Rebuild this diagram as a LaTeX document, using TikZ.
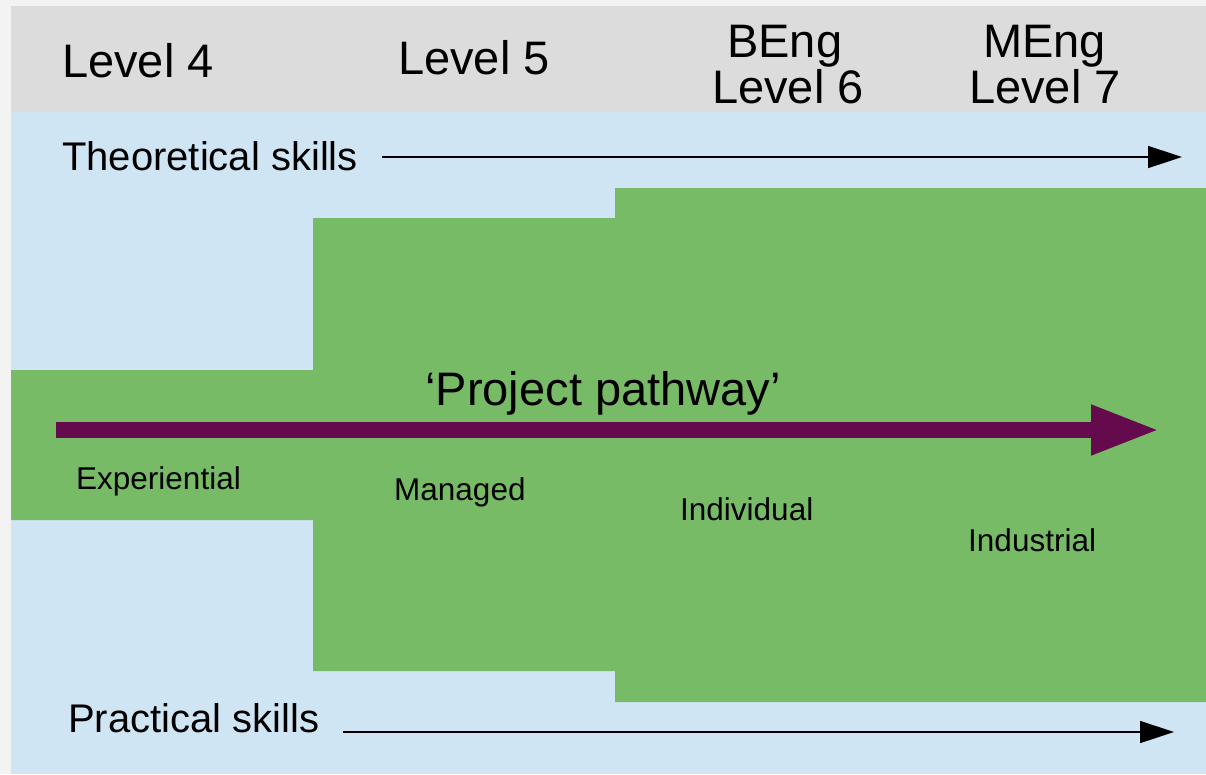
\documentclass[tikz,border=0pt]{standalone}
\usepackage{fontspec}
\setmainfont{Liberation Sans}
\usetikzlibrary{arrows.meta}
\definecolor{pagebg}{HTML}{F3F3F3}
\definecolor{headgray}{HTML}{DCDCDC}
\definecolor{skyblue}{HTML}{CFE5F3}
\definecolor{stepgreen}{HTML}{77BB66}
\definecolor{pathpurple}{HTML}{660A4E}
\tikzset{
  lbl/.style={inner sep=0pt, anchor=base west, text=black},
  levelfont/.style={font=\fontsize{47}{47}\selectfont},
  skillfont/.style={font=\fontsize{40}{40}\selectfont},
  stagefont/.style={font=\fontsize{31.5}{31.5}\selectfont},
  thinarrow/.style={line width=1.5pt, -{Triangle[length=34pt, width=22pt]}},
  patharrow/.style={draw=pathpurple, line width=16pt, -{Triangle[length=69pt, width=46pt]}}
}
\begin{document}
\begin{tikzpicture}[x=1pt,y=-1pt]
\useasboundingbox (0,0) rectangle (1206,774);
\fill[pagebg] (0,0) rectangle (1206,774);
\fill[headgray] (11,6) rectangle (1206,112);
\fill[skyblue] (11,112) rectangle (1206,774);
\fill[stepgreen] (11,370) -- (313,370) -- (313,218) -- (615,218) -- (615,188) -- (1206,188)
  -- (1206,702) -- (615,702) -- (615,671) -- (313,671) -- (313,520) -- (11,520) -- cycle;

% header
\node[lbl, levelfont] (l4) at (62,77) {Level 4};
\node[lbl, levelfont] (l5) at (398,74) {Level 5};
\node[lbl, levelfont] (beng) at (727,57) {BEng};
\node[lbl, levelfont] (l6) at (712,103) {Level 6};
\node[lbl, levelfont] (meng) at (983,57) {MEng};
\node[lbl, levelfont] (l7) at (969,103) {Level 7};

% skills
\node[lbl, skillfont] (theo) at (62,170) {Theoretical skills};
\coordinate (theoS) at (382,157);
\coordinate (theoE) at (1182,157);
\draw[thinarrow] (theoS) -- (theoE);

\node[lbl, skillfont] (prac) at (68,732) {Practical skills};
\coordinate (pracS) at (343,732);
\coordinate (pracE) at (1174,732);
\draw[thinarrow] (pracS) -- (pracE);

% pathway
\coordinate (pathS) at (56,430);
\coordinate (pathE) at (1160,430);
\draw[patharrow] (pathS) -- (pathE);
\node[inner sep=0pt, anchor=base, font=\fontsize{47}{47}\selectfont] (pp) at (603,405) {‘Project pathway’};

% stages
\node[lbl, stagefont] (exp) at (76,489) {Experiential};
\node[lbl, stagefont] (man) at (394,500) {Managed};
\node[lbl, stagefont] (ind) at (680,520) {Individual};
\node[lbl, stagefont] (inds) at (968,551) {Industrial};
\end{tikzpicture}
\end{document}
